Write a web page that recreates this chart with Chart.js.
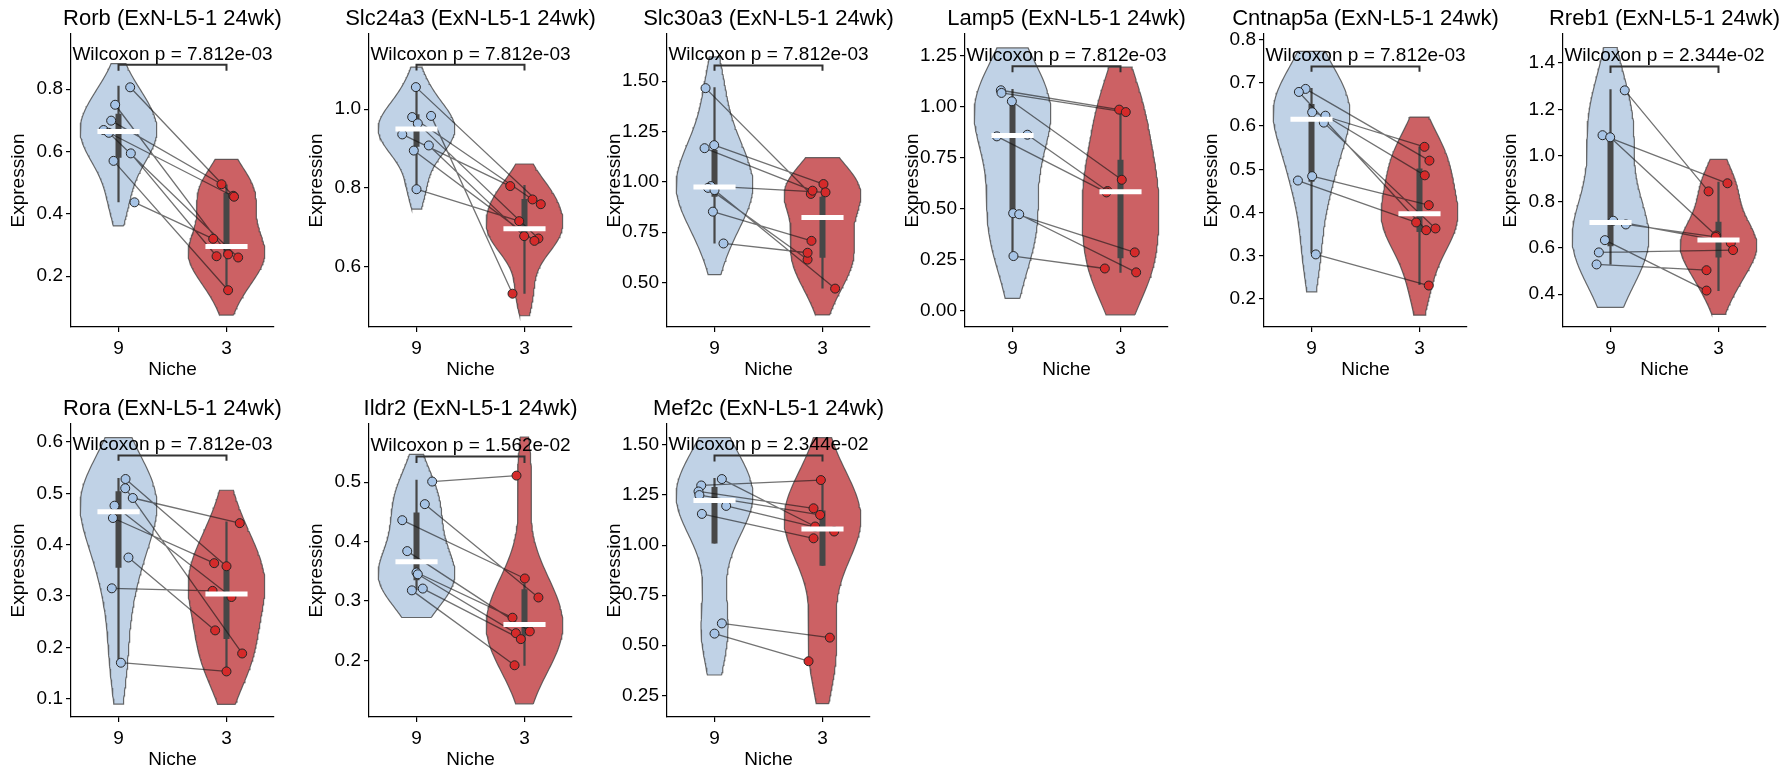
<!DOCTYPE html>
<html>
<head>
<meta charset="utf-8">
<script src="https://cdn.jsdelivr.net/npm/chart.js@4.4.1/dist/chart.umd.min.js"></script>
<style>
html,body{margin:0;padding:0;background:#fff;}
body{width:1790px;height:778px;position:relative;overflow:hidden;}
canvas.panel{position:absolute;}
</style>
</head>
<body>
<script>
// ---------------- DATA ----------------
const geneNames = ['Rorb','Slc24a3','Slc30a3','Lamp5','Cntnap5a','Rreb1','Rora','Ildr2','Mef2c'];
const cellLabel = 'ExN-L5-1 24wk';
const nicheLabels = ['9','3'];
const pValueLabels = ['7.812e-03','7.812e-03','7.812e-03','7.812e-03','7.812e-03','2.344e-02','7.812e-03','1.562e-02','2.344e-02'];

// paired samples: niche9Values[p][k] pairs with niche3Values[p][k]
const niche9Values = [
  [0.806,0.750,0.699,0.669,0.660,0.594,0.570,0.437],
  [1.056,0.983,0.980,0.964,0.936,0.908,0.895,0.797],
  [1.465,1.182,1.167,0.979,0.970,0.959,0.852,0.694],
  [1.079,1.066,1.025,0.861,0.853,0.476,0.471,0.266],
  [0.686,0.679,0.632,0.624,0.608,0.484,0.474,0.303],
  [1.282,1.088,1.079,0.718,0.702,0.634,0.581,0.529],
  [0.528,0.510,0.491,0.476,0.452,0.375,0.315,0.170],
  [0.501,0.463,0.436,0.384,0.348,0.345,0.321,0.318],
  [1.330,1.298,1.268,1.250,1.196,1.156,0.609,0.558]
];
const niche3Values = [
  [0.458,0.270,0.495,0.455,0.260,0.264,0.155,0.320],
  [0.759,0.532,0.771,0.672,0.805,0.678,0.666,0.716],
  [0.940,0.989,0.956,0.948,0.614,0.470,0.707,0.648],
  [0.984,0.972,0.640,0.585,0.578,0.284,0.186,0.205],
  [0.520,0.359,0.552,0.486,0.363,0.417,0.377,0.231],
  [0.845,0.880,0.654,0.622,0.648,0.416,0.591,0.504],
  [0.358,0.188,0.442,0.298,0.364,0.233,0.310,0.153],
  [0.511,0.306,0.338,0.249,0.272,0.246,0.236,0.192],
  [1.093,1.325,1.184,1.151,1.068,1.034,0.538,0.420]
];
// horizontal jitter of each point (category units)
const niche9Jitter = [
  [0.108,-0.031,-0.068,-0.138,-0.090,0.114,-0.046,0.148],
  [-0.006,0.135,-0.040,0.012,-0.132,0.114,-0.025,0.000],
  [-0.083,-0.003,-0.092,-0.034,-0.060,0.000,-0.015,0.083],
  [-0.108,-0.102,-0.006,0.138,-0.145,0.006,0.062,0.009],
  [-0.055,-0.117,0.006,0.129,0.114,0.006,-0.126,0.040],
  [0.132,-0.074,-0.003,0.025,0.142,-0.052,-0.108,-0.129],
  [0.065,0.062,0.132,-0.037,-0.052,0.092,-0.062,0.022],
  [0.145,0.077,-0.132,-0.086,0.000,0.012,0.058,-0.043],
  [0.068,-0.123,-0.148,-0.140,0.108,-0.117,0.068,0.000]
];
const niche3Jitter = [
  [0.062,0.015,-0.046,0.070,0.108,-0.092,0.015,-0.123],
  [0.151,-0.111,0.074,0.129,-0.132,-0.003,0.092,-0.049],
  [-0.108,0.009,-0.092,0.028,-0.138,0.117,-0.102,-0.138],
  [-0.012,0.049,0.012,-0.120,-0.130,0.132,0.145,-0.145],
  [0.092,0.062,0.046,0.049,0.148,0.086,-0.031,0.086],
  [-0.092,0.083,-0.022,0.114,-0.025,-0.111,0.135,-0.111],
  [0.000,0.145,0.123,0.046,-0.114,-0.105,-0.129,0.000],
  [-0.074,0.129,0.003,0.049,-0.111,-0.080,-0.034,-0.092],
  [-0.068,-0.015,-0.083,-0.022,0.108,-0.083,0.068,-0.129]
];
// inner box: [whisker low, q1, q3, whisker high]
const niche9Box = [
  [0.437,0.580,0.721,0.811],[0.795,0.905,0.987,1.053],[0.694,0.926,1.158,1.470],
  [0.266,0.459,1.033,1.085],[0.305,0.471,0.651,0.688],[0.529,0.608,1.082,1.287],
  [0.172,0.355,0.504,0.530],[0.318,0.335,0.449,0.504],[1.008,1.008,1.290,1.335]
];
const niche3Box = [
  [0.155,0.263,0.468,0.494],[0.532,0.670,0.772,0.808],[0.470,0.623,0.926,0.968],
  [0.184,0.255,0.738,0.992],[0.232,0.355,0.502,0.553],[0.414,0.559,0.714,0.887],
  [0.153,0.216,0.355,0.445],[0.191,0.242,0.320,0.330],[0.897,0.897,1.173,1.318]
];
const yTickLabels = [
  ['0.2','0.4','0.6','0.8'],
  ['0.6','0.8','1.0'],
  ['0.50','0.75','1.00','1.25','1.50'],
  ['0.00','0.25','0.50','0.75','1.00','1.25'],
  ['0.2','0.3','0.4','0.5','0.6','0.7','0.8'],
  ['0.4','0.6','0.8','1.0','1.2','1.4'],
  ['0.1','0.2','0.3','0.4','0.5','0.6'],
  ['0.2','0.3','0.4','0.5'],
  ['0.25','0.50','0.75','1.00','1.25','1.50']
];
const yLimits = [
  [0.037,0.977],[0.4475,1.1907],[0.2794,1.7338],[-0.0819,1.3549],[0.135,0.8131],
  [0.2584,1.5257],[0.0642,0.6352],[0.105,0.5978],[0.1415,1.605]
];
// significance bracket: [tick end, bar level]
const bracketLevels = [
  [0.859,0.878],[1.0983,1.1127],[1.551,1.578],[1.167,1.1966],[0.7258,0.738],
  [1.3566,1.3855],[0.5635,0.574],[0.532,0.5433],[1.418,1.448]
];

// ---------------- LAYOUT / STYLE ----------------
const colLeft = [0, 298, 596, 894, 1193, 1492];
const rowTop = [0, 390];
const CANVAS_W = 345, CANVAS_H = 389;
const VIOLIN_HALF = 0.355, MEDIAN_HALF = 0.195;
const FONT = "'Liberation Sans', Arial, Helvetica, sans-serif";

Chart.defaults.font.family = FONT;
Chart.defaults.color = '#000';

function median(a){const s=[...a].sort((p,q)=>p-q);const n=s.length;return n%2?s[(n-1)/2]:(s[n/2-1]+s[n/2])/2;}
function violinOutline(vals, center, halfWidth){
  const n=vals.length, mean=vals.reduce((s,v)=>s+v,0)/n;
  const sd=Math.sqrt(vals.reduce((s,v)=>s+(v-mean)**2,0)/(n-1));
  const bw=sd*Math.pow(n,-0.2);
  const lo=Math.min(...vals)-bw, hi=Math.max(...vals)+bw;
  const G=100, ys=[], ds=[];
  for(let i=0;i<G;i++){
    const y=lo+(hi-lo)*i/(G-1); let d=0;
    for(const v of vals){const z=(y-v)/bw; d+=Math.exp(-0.5*z*z);}
    ys.push(y); ds.push(d);
  }
  const m=Math.max(...ds);
  const right=ys.map((y,i)=>({x:center+halfWidth*ds[i]/m,y}));
  const left=ys.map((y,i)=>({x:center-halfWidth*ds[i]/m,y})).reverse();
  return [...right,...left,right[0]];
}
const GAP = {x:null,y:null};

const wilcoxPlugin = {
  id:'wilcox',
  afterDatasetsDraw(chart, args, opts){
    const {ctx, scales:{x,y}} = chart;
    ctx.save();
    ctx.font = `19px ${FONT}`;
    ctx.fillStyle = '#000';
    ctx.textAlign = 'center';
    ctx.textBaseline = 'alphabetic';
    ctx.fillText(opts.text, x.getPixelForValue(0.5), y.getPixelForValue(opts.level) - 5);
    ctx.restore();
  }
};

geneNames.forEach((gene, p) => {
  const col = p % 6, row = Math.floor(p / 6);
  const cv = document.createElement('canvas');
  cv.className = 'panel';
  cv.width = CANVAS_W; cv.height = CANVAS_H;
  cv.style.left = colLeft[col] + 'px';
  cv.style.top = rowTop[row] + 'px';
  cv.style.width = CANVAS_W + 'px'; cv.style.height = CANVAS_H + 'px';
  document.body.appendChild(cv);

  const v9 = niche9Values[p], v3 = niche3Values[p];
  const b9 = niche9Box[p], b3 = niche3Box[p];
  const m9 = median(v9), m3 = median(v3);
  const pts9 = v9.map((v,k)=>({x:0+niche9Jitter[p][k], y:v}));
  const pts3 = v3.map((v,k)=>({x:1+niche3Jitter[p][k], y:v}));
  const pairs = [];
  pts9.forEach((a,k)=>{ pairs.push(a, pts3[k], GAP); });
  const tickVals = yTickLabels[p].map(parseFloat);
  const [bTick, bBar] = bracketLevels[p];

  const lineBase = {type:'line', showLine:true, pointRadius:0, pointHoverRadius:0, pointHitRadius:0, fill:false, tension:0, spanGaps:false};

  new Chart(cv, {
    type:'scatter',
    data:{datasets:[
      {...lineBase, data:violinOutline(v9,0,VIOLIN_HALF), fill:'shape', backgroundColor:'#c0d2e6', borderColor:'rgba(70,70,70,0.8)', borderWidth:1.2, order:10},
      {...lineBase, data:violinOutline(v3,1,VIOLIN_HALF), fill:'shape', backgroundColor:'#cc6164', borderColor:'rgba(70,70,70,0.8)', borderWidth:1.2, order:9},
      {...lineBase, data:[{x:0,y:b9[0]},{x:0,y:b9[3]},GAP,{x:1,y:b3[0]},{x:1,y:b3[3]}], borderColor:'#474747', borderWidth:2.2, borderCapStyle:'butt', order:8},
      {...lineBase, data:[{x:0,y:b9[1]},{x:0,y:b9[2]},GAP,{x:1,y:b3[1]},{x:1,y:b3[2]}], borderColor:'#474747', borderWidth:6, borderCapStyle:'butt', order:7},
      {...lineBase, data:pairs, borderColor:'rgba(20,20,20,0.6)', borderWidth:1.3, order:6},
      {type:'scatter', data:pts9, backgroundColor:'#a7c4e6', borderColor:'#262626', borderWidth:1, pointRadius:4.5, pointHoverRadius:4.5, order:5},
      {type:'scatter', data:pts3, backgroundColor:'#d52a2a', borderColor:'#262626', borderWidth:1, pointRadius:4.5, pointHoverRadius:4.5, order:4},
      {...lineBase, data:[{x:-MEDIAN_HALF,y:m9},{x:MEDIAN_HALF,y:m9},GAP,{x:1-MEDIAN_HALF,y:m3},{x:1+MEDIAN_HALF,y:m3}], borderColor:'#ffffff', borderWidth:5, borderCapStyle:'butt', order:3},
      {...lineBase, data:[{x:0,y:bTick},{x:0,y:bBar},{x:1,y:bBar},{x:1,y:bTick}], borderColor:'#333333', borderWidth:2, order:2}
    ]},
    options:{
      responsive:false, animation:false, devicePixelRatio:1, events:[],
      layout:{padding:0},
      plugins:{
        legend:{display:false}, tooltip:{enabled:false},
        title:{display:true, text:`${gene} (${cellLabel})`, color:'#000', font:{size:22, weight:'normal', family:FONT, lineHeight:1.2}, padding:{top:6,bottom:1.6}},
        wilcox:{text:`Wilcoxon p = ${pValueLabels[p]}`, level:bBar}
      },
      scales:{
        x:{type:'linear', min:-0.44, max:1.44,
           afterBuildTicks:s=>{s.ticks=[{value:0},{value:1}];},
           afterFit:s=>{s.height=62;},
           ticks:{callback:(v,i)=>nicheLabels[i], font:{size:19}, color:'#000', padding:5, maxRotation:0, autoSkip:false},
           grid:{display:true, drawOnChartArea:false, drawTicks:true, tickLength:5, color:'#000', lineWidth:1.2},
           border:{display:true, color:'#000', width:1.2},
           title:{display:true, text:'Niche', color:'#000', font:{size:19}, padding:{top:0,bottom:7.5}}},
        y:{type:'linear', position:'left', min:yLimits[p][0], max:yLimits[p][1],
           afterBuildTicks:s=>{s.ticks=tickVals.map(v=>({value:v}));},
           afterFit:s=>{s.width=71;},
           ticks:{callback:(v,i)=>yTickLabels[p][i], font:{size:19}, color:'#000', padding:3, autoSkip:false},
           grid:{display:true, drawOnChartArea:false, drawTicks:true, tickLength:5, color:'#000', lineWidth:1.2},
           border:{display:true, color:'#000', width:1.2},
           title:{display:true, text:'Expression', color:'#000', font:{size:19}, padding:{top:7.5,bottom:0}}},
        yR:{type:'linear', position:'right', min:yLimits[p][0], max:yLimits[p][1],
           afterFit:s=>{s.width=71;},
           ticks:{display:false}, grid:{display:false}, border:{display:false}, title:{display:false}}
      }
    },
    plugins:[wilcoxPlugin]
  });
});
</script>
</body>
</html>
